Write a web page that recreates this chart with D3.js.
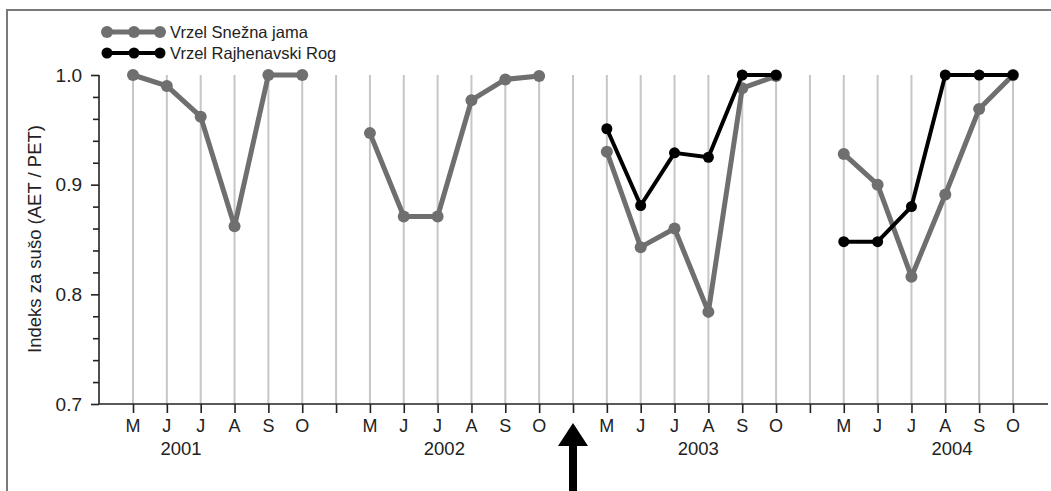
<!DOCTYPE html>
<html>
<head>
<meta charset="utf-8">
<script src="https://cdn.jsdelivr.net/npm/d3@7"></script>
<style>
  html, body { margin: 0; padding: 0; background: #fff; }
  svg { display: block; }
  text { font-family: "Liberation Sans", Arial, sans-serif; fill: #222; }
</style>
</head>
<body>
<svg id="chart" width="1051" height="491"></svg>
<script>
// ---- data ----
const years = ["2001", "2002", "2003", "2004"];
const months = ["M", "J", "J", "A", "S", "O"];
const yTickLabels = [0.7, 0.8, 0.9, 1.0];
const seriesNames = ["Vrzel Snežna jama", "Vrzel Rajhenavski Rog"];
const sneznaJama = [
  [1.000, 0.990, 0.962, 0.862, 1.000, 1.000],
  [0.947, 0.871, 0.871, 0.977, 0.996, 0.999],
  [0.930, 0.843, 0.860, 0.784, 0.988, 0.999],
  [0.928, 0.900, 0.816, 0.891, 0.969, 1.000]
];
const rajhenavskiRog = [
  [null, null, null, null, null, null],
  [null, null, null, null, null, null],
  [0.951, 0.881, 0.929, 0.925, 1.000, 1.000],
  [0.848, 0.848, 0.880, 1.000, 1.000, 1.000]
];
// year label anchor (in slot units from the year's first month)
const yearLabelOffset = [1.42, 2.2, 2.7, 3.2];

// ---- build slots ----
const slots = [];
years.forEach((yr, yi) => {
  months.forEach((m, mi) => slots.push({ key: yr + "-" + mi, label: m, yi, mi }));
  if (yi < years.length - 1) slots.push({ key: "gap-" + yi, label: "", gap: true, yi });
});
function seriesPoints(arr) {
  return slots.map(s => ({ key: s.key, v: s.gap ? null : arr[s.yi][s.mi] }));
}

const svg = d3.select("#chart");
const font = '"Liberation Sans", Arial, sans-serif';

// frame
svg.append("rect").attr("x", 7).attr("y", 10).attr("width", 1200).attr("height", 700)
  .attr("fill", "none").attr("stroke", "#7a7a7a").attr("stroke-width", 2);

const x = d3.scalePoint().domain(slots.map(s => s.key)).range([133, 1013]);
const y = d3.scaleLinear().domain([0.7, 1.0]).range([404, 75]);
const axisLeftX = 99;
const axisRightX = 1048;

// gridlines
svg.append("g").selectAll("line").data(slots).join("line")
  .attr("x1", d => x(d.key)).attr("x2", d => x(d.key))
  .attr("y1", y(1.0)).attr("y2", y(0.7))
  .attr("stroke", "#c6c6c6").attr("stroke-width", 2);

// y axis
const yTicks = d3.range(0, 16).map(i => +(0.7 + i * 0.02).toFixed(2));
const yAxis = d3.axisLeft(y).tickValues(yTicks).tickSize(8).tickPadding(9)
  .tickFormat(d => yTickLabels.some(t => Math.abs(t - d) < 1e-9) ? d3.format(".1f")(d) : "");
const gy = svg.append("g").attr("transform", `translate(${axisLeftX},0)`).call(yAxis);
gy.select(".domain").attr("stroke", "#222").attr("stroke-width", 1.6).attr("d", `M0,${y(1.0)}V${y(0.7)}`);
gy.selectAll(".tick line").attr("stroke", "#222").attr("stroke-width", 1.6)
  .attr("x2", d => yTickLabels.some(t => Math.abs(t - d) < 1e-9) ? -8 : -6);
gy.selectAll(".tick text").style("font-family", font).style("font-size", "19px").attr("fill", "#333");

// x axis
const xAxis = d3.axisBottom(x).tickSize(9).tickFormat("");
const gx = svg.append("g").attr("transform", `translate(0,${y(0.7)})`).call(xAxis);
gx.select(".domain").attr("stroke", "#222").attr("stroke-width", 1.6)
  .attr("d", `M${axisLeftX},0H${axisRightX}`);
gx.selectAll(".tick line").attr("stroke", "#222").attr("stroke-width", 1.6);

// month labels
svg.append("g").selectAll("text").data(slots.filter(s => !s.gap)).join("text")
  .attr("x", d => x(d.key)).attr("y", 432)
  .attr("text-anchor", "middle").style("font-size", "18px").attr("fill", "#333")
  .text(d => d.label);

// year labels
const step = x.step();
svg.append("g").selectAll("text").data(years).join("text")
  .attr("x", (d, i) => x(d + "-0") + yearLabelOffset[i] * step).attr("y", 455)
  .attr("text-anchor", "middle").style("font-size", "18.5px").attr("fill", "#333")
  .text(d => d);

// y axis title
svg.append("text").attr("transform", "translate(41,239) rotate(-90)")
  .attr("text-anchor", "middle").style("font-size", "18.5px").attr("fill", "#333")
  .text("Indeks za sušo (AET / PET)");

// series
const line = d3.line().defined(d => d.v != null).x(d => x(d.key)).y(d => y(d.v));
const styles = [
  { data: sneznaJama, color: "#6f6f6f", width: 5, r: 6 },
  { data: rajhenavskiRog, color: "#000000", width: 4, r: 5.5 }
];
styles.forEach(st => {
  const pts = seriesPoints(st.data);
  svg.append("path").datum(pts).attr("d", line)
    .attr("fill", "none").attr("stroke", st.color).attr("stroke-width", st.width)
    .attr("stroke-linejoin", "round");
  svg.append("g").selectAll("circle").data(pts.filter(d => d.v != null)).join("circle")
    .attr("cx", d => x(d.key)).attr("cy", d => y(d.v)).attr("r", st.r)
    .attr("fill", st.color);
});

// legend
const legendY = [32, 53];
seriesNames.forEach((name, i) => {
  const st = styles[i];
  const g = svg.append("g").attr("transform", `translate(0,${legendY[i]})`);
  g.append("line").attr("x1", 105).attr("x2", 161).attr("y1", 0).attr("y2", 0)
    .attr("stroke", st.color).attr("stroke-width", st.width);
  [107, 134, 160].forEach(cx => g.append("circle").attr("cx", cx).attr("cy", 0).attr("r", st.r).attr("fill", st.color));
  g.append("text").attr("x", 170).attr("y", 0).attr("dy", "0.36em")
    .style("font-size", "16.5px").attr("fill", "#222").text(name);
});

// arrow under the gap between 2002 and 2003
const ax = x("gap-1");
svg.append("path")
  .attr("d", `M${ax},423 L${ax + 15},446 L${ax + 4},446 L${ax + 4},500 L${ax - 4},500 L${ax - 4},446 L${ax - 15},446 Z`)
  .attr("fill", "#000");
</script>
</body>
</html>
